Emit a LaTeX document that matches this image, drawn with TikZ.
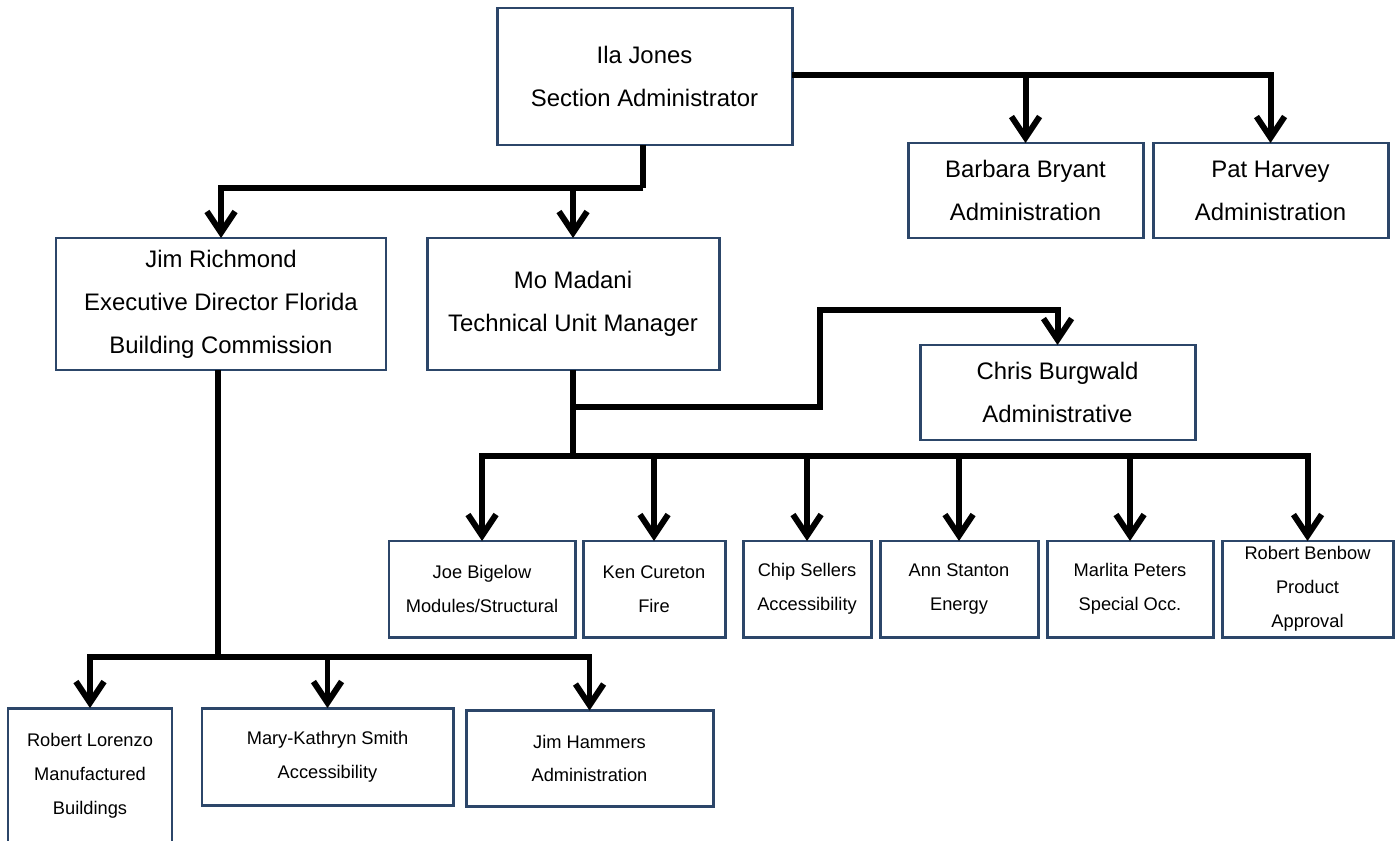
\documentclass[tikz,border=0pt]{standalone}
\usepackage{fontspec}
\setmainfont{Liberation Sans}
\usetikzlibrary{arrows.meta}
\definecolor{boxline}{RGB}{44,70,105}
\begin{document}
\begin{tikzpicture}[x=0.02cm,y=-0.02cm,
  box/.style 2 args={draw=boxline, line width=1.7pt, fill=white, inner sep=0pt, outer sep=0pt,
     minimum width=#1*0.02cm, minimum height=#2*0.02cm, align=center},
  big/.style={font=\fontsize{13.6}{24.4}\selectfont},
  small/.style={font=\fontsize{10.4}{19.2}\selectfont},
  conn/.style={line width=3.4pt, line join=miter, black},
  arr/.style={conn, -{Straight Barb[length=12pt,width=16pt]}}]
\useasboundingbox (0,0) rectangle (1395,841);
\clip (0,0) rectangle (1395,841);
% top
\node[box={295}{137}, big] (ila) at (644.5,76.5) {Ila Jones\\Section Administrator};
\node[box={235}{95}, big] (bb) at (1025.5,190.5) {Barbara Bryant\\Administration};
\node[box={235}{95}, big] (ph) at (1270.5,190.5) {Pat Harvey\\Administration};
\node[box={330}{132}, big] (jr) at (221,304) {Jim Richmond\\Executive Director Florida\\Building Commission};
\node[box={292}{132}, big] (mo) at (573,304) {Mo Madani\\Technical Unit Manager};
\node[box={275}{95}, big] (cb) at (1057.5,392.5) {Chris Burgwald\\Administrative};
% middle row
\node[box={186}{96}, small] (joe) at (482,589) {Joe Bigelow\\Modules/Structural};
\node[box={142}{96}, small] (ken) at (654,589) {Ken Cureton\\Fire};
\node[box={128}{96}, small] (chip) at (807,589) {Chip Sellers\\Accessibility};
\node[box={158}{96}, small] (ann) at (959,589) {Ann Stanton\\Energy};
\node[box={166}{96}, small] (mar) at (1130,589) {Marlita Peters\\Special Occ.};
\node[box={171}{96}, small] (rbb) at (1307.5,589) {Robert Benbow\\Product\\Approval};
% bottom row
\node[box={164}{136}, small] (lor) at (90,776) {Robert Lorenzo\\Manufactured\\Buildings};
\node[box={251}{97}, small] (mks) at (327.5,756.5) {Mary-Kathryn Smith\\Accessibility};
\node[box={247}{96}, small] (jh) at (589.5,758.5) {Jim Hammers\\Administration};
% coordinates
\coordinate (ilaR) at (792,75);
\coordinate (ilaJ) at (643,188);
\coordinate (moJ) at (573,456);
\coordinate (moC) at (573,407);
\coordinate (cbK) at (820,310);
\coordinate (jrJ) at (218,657);
% connectors
\draw[arr] (ilaR) -| (bb.north);
\draw[arr] (ilaR) -| (ph.north);
\draw[conn] (ilaJ |- ila.south) -- (ilaJ);
\draw[arr] (ilaJ) -| (jr.north);
\draw[arr] (ilaJ) -| (mo.north);
\draw[conn] (mo.south) -- (moJ);
\draw[arr] (moC) -| (cbK) -| (cb.north);
\draw[arr] (moJ) -| (joe.north);
\draw[arr] (moJ) -| (ken.north);
\draw[arr] (moJ) -| (chip.north);
\draw[arr] (moJ) -| (ann.north);
\draw[arr] (moJ) -| (mar.north);
\draw[arr] (moJ) -| (rbb.north);
\draw[conn] (jrJ |- jr.south) -- (jrJ);
\draw[arr] (jrJ) -| (lor.north);
\draw[arr] (jrJ) -| (mks.north);
\draw[arr] (jrJ) -| (jh.north);
\end{tikzpicture}
\end{document}
